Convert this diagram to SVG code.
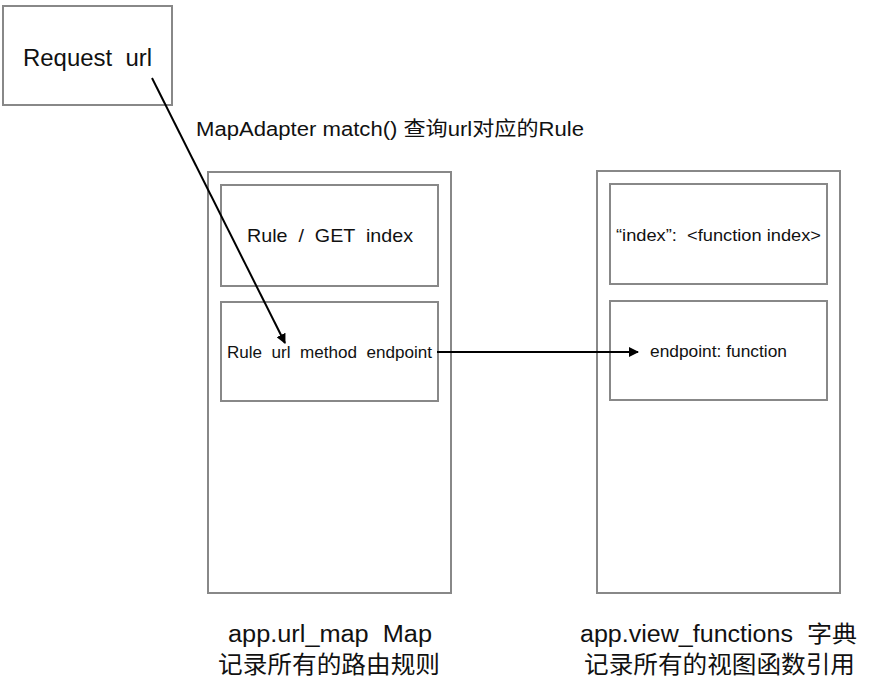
<svg xmlns="http://www.w3.org/2000/svg" width="876" height="692" viewBox="0 0 876 692" xml:space="preserve">
<style>
.box{fill:#fff;stroke:#888;stroke-width:2}
.t{font-family:"Liberation Sans","Noto Sans CJK SC",sans-serif;fill:#111;white-space:pre}
.c{stroke:#000;stroke-width:2;fill:none}
</style>
<defs>
<marker id="ah" markerWidth="10" markerHeight="10" refX="9" refY="5" orient="auto" markerUnits="userSpaceOnUse">
<path d="M0,0 L10,5 L0,10 Z" fill="#000"/>
</marker>
</defs>
<rect width="876" height="692" fill="#fff"/>
<g id="request">
<rect class="box" x="3" y="6" width="169" height="99"/>
<text class="t" x="23" y="66" font-size="23" textLength="129" lengthAdjust="spacingAndGlyphs">Request  url</text>
</g>
<g id="url_map">
<rect class="box" x="208" y="172" width="243" height="421"/>
</g>
<g id="rule_index">
<rect class="box" x="221" y="185" width="217" height="101"/>
<text class="t" x="247" y="242" font-size="19" textLength="166" lengthAdjust="spacingAndGlyphs">Rule  /  GET  index</text>
</g>
<g id="rule_generic">
<rect class="box" x="221" y="302" width="217" height="99"/>
<text class="t" x="227" y="358" font-size="16" textLength="205" lengthAdjust="spacingAndGlyphs">Rule  url  method  endpoint</text>
</g>
<g id="view_functions">
<rect class="box" x="597" y="171" width="243" height="422"/>
</g>
<g id="vf_index">
<rect class="box" x="610" y="184" width="217" height="100"/>
<text class="t" x="616" y="241" font-size="16" textLength="205" lengthAdjust="spacingAndGlyphs">“index”:  &lt;function index&gt;</text>
</g>
<g id="vf_generic">
<rect class="box" x="610" y="301" width="217" height="99"/>
<text class="t" x="650" y="357" font-size="17" textLength="137" lengthAdjust="spacingAndGlyphs">endpoint: function</text>
</g>
<g id="connectors">
<line class="c" x1="152" y1="78" x2="285" y2="343" marker-end="url(#ah)"/>
<line class="c" x1="437" y1="352" x2="638" y2="352" marker-end="url(#ah)"/>
</g>
<text class="t" x="196" y="136" font-size="20" textLength="388" lengthAdjust="spacingAndGlyphs">MapAdapter match() 查询url对应的Rule</text>
<text class="t" x="228" y="642" font-size="23" textLength="204" lengthAdjust="spacingAndGlyphs">app.url_map  Map</text>
<text class="t" x="218" y="673" font-size="24" textLength="222" lengthAdjust="spacingAndGlyphs">记录所有的路由规则</text>
<text class="t" x="580" y="642" font-size="23" textLength="277" lengthAdjust="spacingAndGlyphs">app.view_functions  字典</text>
<text class="t" x="584" y="673" font-size="24" textLength="271" lengthAdjust="spacingAndGlyphs">记录所有的视图函数引用</text>
</svg>
